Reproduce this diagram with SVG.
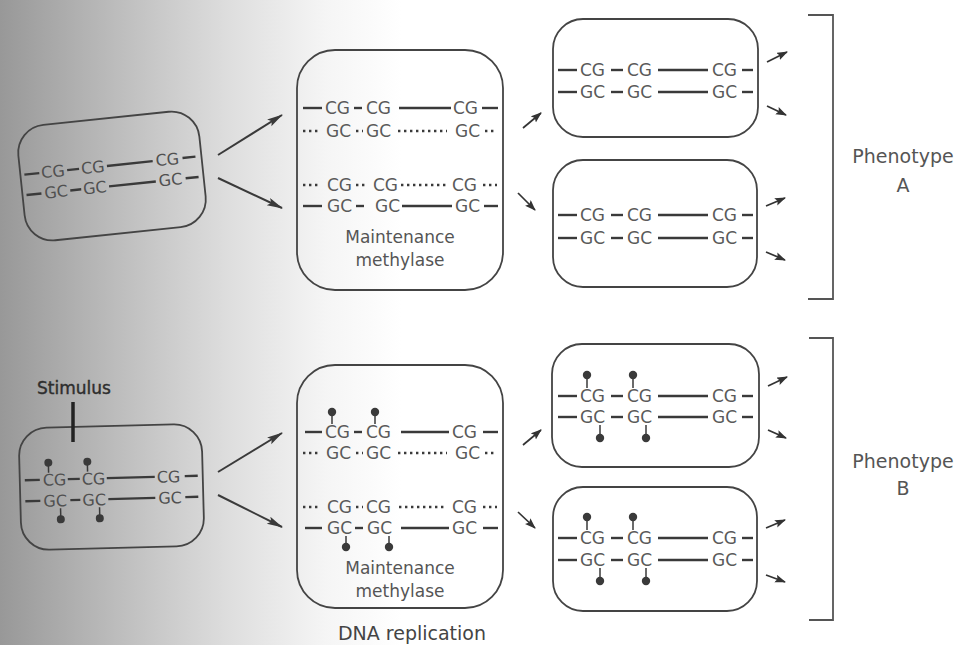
<svg xmlns="http://www.w3.org/2000/svg" width="956" height="645" viewBox="0 0 956 645">
<defs>
<linearGradient id="bg" x1="0" y1="0" x2="956" y2="0" gradientUnits="userSpaceOnUse">
<stop offset="0" stop-color="#989898"/>
<stop offset="0.12" stop-color="#bcbcbc"/>
<stop offset="0.24" stop-color="#dedede"/>
<stop offset="0.34" stop-color="#f5f5f5"/>
<stop offset="0.42" stop-color="#ffffff"/>
<stop offset="1" stop-color="#ffffff"/>
</linearGradient>
<marker id="big" markerUnits="userSpaceOnUse" markerWidth="16" markerHeight="10" refX="15" refY="4" orient="auto">
<path d="M0,0 L16,4 L0,8 L3,4 Z" fill="#3a3a3a"/>
</marker>
<marker id="sm" markerUnits="userSpaceOnUse" markerWidth="11" markerHeight="9" refX="10" refY="4" orient="auto">
<path d="M0,0 L11,4 L0,8 L2,4 Z" fill="#333"/>
</marker>
</defs>
<style>
.t{font-family:"DejaVu Sans","Liberation Sans",sans-serif;font-size:17px;fill:#5a5a5a}
.tl{font-family:"DejaVu Sans","Liberation Sans",sans-serif;font-size:16px;fill:#505050}
.lab{font-family:"DejaVu Sans","Liberation Sans",sans-serif;font-size:17px;fill:#555;text-anchor:middle}
.big{font-family:"DejaVu Sans","Liberation Sans",sans-serif;font-size:19px;fill:#555;text-anchor:middle}
.s{stroke:#3a3a3a;stroke-width:2.4;fill:none}
.d{stroke:#3a3a3a;stroke-width:2.6;stroke-dasharray:2.4 3.6;fill:none}
.box{fill:none;stroke:#444;stroke-width:1.8}
.ar{stroke:#3a3a3a;stroke-width:2;fill:none}
.ars{stroke:#333;stroke-width:1.7;fill:none}
.st{stroke:#3a3a3a;stroke-width:1.5}
.dot{fill:#3a3a3a}
.br{fill:none;stroke:#555;stroke-width:1.8}
</style>
<rect x="0" y="0" width="956" height="645" fill="url(#bg)"/>

<g id="parentA" transform="rotate(-6 112 176)">
<rect class="box" x="21" y="118" width="182" height="116" rx="28"/>
<line class="s" x1="25" y1="165.5" x2="40" y2="165.5"/>
<text class="tl" x="42" y="171">CG</text>
<line class="s" x1="68" y1="165.5" x2="80" y2="165.5"/>
<text class="tl" x="82" y="171">CG</text>
<line class="s" x1="108" y1="165.5" x2="154" y2="165.5"/>
<text class="tl" x="157" y="171">CG</text>
<line class="s" x1="184" y1="165.5" x2="197" y2="165.5"/>
<line class="s" x1="25" y1="186" x2="40" y2="186"/>
<text class="tl" x="43" y="191.5">GC</text>
<line class="s" x1="69" y1="186" x2="80" y2="186"/>
<text class="tl" x="82" y="191.5">GC</text>
<line class="s" x1="108" y1="186" x2="155" y2="186"/>
<text class="tl" x="158" y="191.5">GC</text>
<line class="s" x1="185" y1="186" x2="198" y2="186"/>
</g>

<g id="parentB" transform="rotate(-1.5 112 487)">
<rect class="box" x="20" y="426" width="183" height="122" rx="28"/>
<line class="s" x1="25" y1="478" x2="40" y2="478"/>
<text class="tl" x="43" y="484">CG</text>
<line class="s" x1="68" y1="478" x2="80" y2="478"/>
<text class="tl" x="82" y="484">CG</text>
<line class="s" x1="107" y1="478" x2="155" y2="478"/>
<text class="tl" x="157" y="484">CG</text>
<line class="s" x1="185" y1="478" x2="198" y2="478"/>
<line class="s" x1="25" y1="499" x2="40" y2="499"/>
<text class="tl" x="43" y="505">GC</text>
<line class="s" x1="70" y1="499" x2="80" y2="499"/>
<text class="tl" x="82" y="505">GC</text>
<line class="s" x1="108" y1="499" x2="155" y2="499"/>
<text class="tl" x="158" y="505">GC</text>
<line class="s" x1="185" y1="499" x2="198" y2="499"/>
<line class="st" x1="49" y1="461" x2="49" y2="471"/><circle class="dot" cx="49" cy="461" r="4"/>
<line class="st" x1="88" y1="461" x2="88" y2="471"/><circle class="dot" cx="88" cy="461" r="4"/>
<line class="st" x1="60" y1="507" x2="60" y2="518"/><circle class="dot" cx="60" cy="518" r="4"/>
<line class="st" x1="99" y1="507" x2="99" y2="518"/><circle class="dot" cx="99" cy="518" r="4"/>
</g>

<g id="stimulus">
<text x="37" y="394" style="font-family:'DejaVu Sans','Liberation Sans',sans-serif;font-size:17px;fill:#2e2e2e;stroke:#2e2e2e;stroke-width:0.4">Stimulus</text>
<line x1="73" y1="402" x2="73" y2="442" stroke="#222" stroke-width="3.5"/>
</g>

<g id="replicaA">
<rect class="box" x="297" y="50" width="206" height="240" rx="38"/>
<line class="s" x1="303" y1="108" x2="322" y2="108"/>
<text class="t" x="325" y="114">CG</text>
<line class="s" x1="354" y1="108" x2="362" y2="108"/>
<text class="t" x="366" y="114">CG</text>
<line class="s" x1="399" y1="108" x2="451" y2="108"/>
<text class="t" x="453" y="114">CG</text>
<line class="s" x1="482" y1="108" x2="498" y2="108"/>
<line class="d" x1="303" y1="131" x2="321" y2="131"/>
<text class="t" x="326" y="137">GC</text>
<line class="d" x1="356" y1="131" x2="363" y2="131"/>
<text class="t" x="366" y="137">GC</text>
<line class="d" x1="398" y1="131" x2="447" y2="131"/>
<text class="t" x="455" y="137">GC</text>
<line class="d" x1="485" y1="131" x2="497" y2="131"/>
<line class="d" x1="303" y1="185" x2="321" y2="185"/>
<text class="t" x="327" y="191">CG</text>
<line class="d" x1="356" y1="185" x2="366" y2="185"/>
<text class="t" x="373" y="191">CG</text>
<line class="d" x1="401" y1="185" x2="449" y2="185"/>
<text class="t" x="452" y="191">CG</text>
<line class="d" x1="483" y1="185" x2="497" y2="185"/>
<line class="s" x1="303" y1="206" x2="322" y2="206"/>
<text class="t" x="327" y="212">GC</text>
<line class="s" x1="356" y1="206" x2="364" y2="206"/>
<text class="t" x="375" y="212">GC</text>
<line class="s" x1="402" y1="206" x2="452" y2="206"/>
<text class="t" x="455" y="212">GC</text>
<line class="s" x1="484" y1="206" x2="498" y2="206"/>
<text class="lab" x="400" y="243">Maintenance</text>
<text class="lab" x="400" y="266">methylase</text>
</g>

<g id="replicaB">
<rect class="box" x="297" y="365" width="206" height="243" rx="38"/>
<line class="s" x1="305" y1="432" x2="322" y2="432"/>
<text class="t" x="325" y="438">CG</text>
<line class="s" x1="354" y1="432" x2="362" y2="432"/>
<text class="t" x="366" y="438">CG</text>
<line class="s" x1="401" y1="432" x2="449" y2="432"/>
<text class="t" x="452" y="438">CG</text>
<line class="s" x1="483" y1="432" x2="498" y2="432"/>
<line class="st" x1="332" y1="412" x2="332" y2="424"/><circle class="dot" cx="332" cy="412" r="4.2"/>
<line class="st" x1="375" y1="412" x2="375" y2="424"/><circle class="dot" cx="375" cy="412" r="4.2"/>
<line class="d" x1="303" y1="453" x2="321" y2="453"/>
<text class="t" x="326" y="459">GC</text>
<line class="d" x1="356" y1="453" x2="363" y2="453"/>
<text class="t" x="366" y="459">GC</text>
<line class="d" x1="398" y1="453" x2="447" y2="453"/>
<text class="t" x="455" y="459">GC</text>
<line class="d" x1="485" y1="453" x2="497" y2="453"/>
<line class="d" x1="303" y1="507" x2="321" y2="507"/>
<text class="t" x="327" y="513">CG</text>
<line class="d" x1="356" y1="507" x2="363" y2="507"/>
<text class="t" x="366" y="513">CG</text>
<line class="d" x1="399" y1="507" x2="447" y2="507"/>
<text class="t" x="452" y="513">CG</text>
<line class="d" x1="483" y1="507" x2="497" y2="507"/>
<line class="s" x1="305" y1="528" x2="322" y2="528"/>
<text class="t" x="327" y="534">GC</text>
<line class="s" x1="355" y1="528" x2="363" y2="528"/>
<text class="t" x="367" y="534">GC</text>
<line class="s" x1="401" y1="528" x2="449" y2="528"/>
<text class="t" x="452" y="534">GC</text>
<line class="s" x1="483" y1="528" x2="498" y2="528"/>
<line class="st" x1="346" y1="536" x2="346" y2="547"/><circle class="dot" cx="346" cy="547" r="4.2"/>
<line class="st" x1="389" y1="536" x2="389" y2="547"/><circle class="dot" cx="389" cy="547" r="4.2"/>
<text class="lab" x="400" y="574">Maintenance</text>
<text class="lab" x="400" y="597">methylase</text>
</g>

<g id="daughterA1">
<rect class="box" x="553" y="19" width="205" height="118" rx="30"/>
<line class="s" x1="558" y1="70" x2="577" y2="70"/>
<text class="t" x="580" y="76">CG</text>
<line class="s" x1="611" y1="70" x2="623" y2="70"/>
<text class="t" x="627" y="76">CG</text>
<line class="s" x1="658" y1="70" x2="708" y2="70"/>
<text class="t" x="712" y="76">CG</text>
<line class="s" x1="742" y1="70" x2="753" y2="70"/>
<line class="s" x1="558" y1="92" x2="577" y2="92"/>
<text class="t" x="580" y="98">GC</text>
<line class="s" x1="611" y1="92" x2="623" y2="92"/>
<text class="t" x="627" y="98">GC</text>
<line class="s" x1="658" y1="92" x2="708" y2="92"/>
<text class="t" x="712" y="98">GC</text>
<line class="s" x1="742" y1="92" x2="753" y2="92"/>
</g>

<g id="daughterA2">
<rect class="box" x="553" y="160" width="204" height="127" rx="30"/>
<line class="s" x1="558" y1="215" x2="577" y2="215"/>
<text class="t" x="580" y="221">CG</text>
<line class="s" x1="611" y1="215" x2="623" y2="215"/>
<text class="t" x="627" y="221">CG</text>
<line class="s" x1="658" y1="215" x2="708" y2="215"/>
<text class="t" x="712" y="221">CG</text>
<line class="s" x1="742" y1="215" x2="753" y2="215"/>
<line class="s" x1="558" y1="238" x2="577" y2="238"/>
<text class="t" x="580" y="244">GC</text>
<line class="s" x1="611" y1="238" x2="623" y2="238"/>
<text class="t" x="627" y="244">GC</text>
<line class="s" x1="658" y1="238" x2="708" y2="238"/>
<text class="t" x="712" y="244">GC</text>
<line class="s" x1="742" y1="238" x2="753" y2="238"/>
</g>

<g id="daughterB1">
<rect class="box" x="552" y="344" width="207" height="123" rx="30"/>
<line class="s" x1="558" y1="396" x2="577" y2="396"/>
<text class="t" x="580" y="402">CG</text>
<line class="s" x1="611" y1="396" x2="623" y2="396"/>
<text class="t" x="627" y="402">CG</text>
<line class="s" x1="658" y1="396" x2="708" y2="396"/>
<text class="t" x="712" y="402">CG</text>
<line class="s" x1="742" y1="396" x2="753" y2="396"/>
<line class="s" x1="558" y1="417" x2="577" y2="417"/>
<text class="t" x="580" y="423">GC</text>
<line class="s" x1="611" y1="417" x2="623" y2="417"/>
<text class="t" x="627" y="423">GC</text>
<line class="s" x1="658" y1="417" x2="708" y2="417"/>
<text class="t" x="712" y="423">GC</text>
<line class="s" x1="742" y1="417" x2="753" y2="417"/>
<line class="st" x1="587" y1="375" x2="587" y2="388"/><circle class="dot" cx="587" cy="375" r="4.2"/>
<line class="st" x1="633" y1="375" x2="633" y2="388"/><circle class="dot" cx="633" cy="375" r="4.2"/>
<line class="st" x1="600" y1="425" x2="600" y2="438"/><circle class="dot" cx="600" cy="438" r="4.2"/>
<line class="st" x1="646" y1="425" x2="646" y2="438"/><circle class="dot" cx="646" cy="438" r="4.2"/>
</g>

<g id="daughterB2">
<rect class="box" x="553" y="487" width="204" height="124" rx="30"/>
<line class="s" x1="558" y1="538" x2="577" y2="538"/>
<text class="t" x="580" y="544">CG</text>
<line class="s" x1="611" y1="538" x2="623" y2="538"/>
<text class="t" x="627" y="544">CG</text>
<line class="s" x1="658" y1="538" x2="708" y2="538"/>
<text class="t" x="712" y="544">CG</text>
<line class="s" x1="742" y1="538" x2="753" y2="538"/>
<line class="s" x1="558" y1="560" x2="577" y2="560"/>
<text class="t" x="580" y="566">GC</text>
<line class="s" x1="611" y1="560" x2="623" y2="560"/>
<text class="t" x="627" y="566">GC</text>
<line class="s" x1="658" y1="560" x2="708" y2="560"/>
<text class="t" x="712" y="566">GC</text>
<line class="s" x1="742" y1="560" x2="753" y2="560"/>
<line class="st" x1="587" y1="517" x2="587" y2="530"/><circle class="dot" cx="587" cy="517" r="4.2"/>
<line class="st" x1="633" y1="517" x2="633" y2="530"/><circle class="dot" cx="633" cy="517" r="4.2"/>
<line class="st" x1="600" y1="568" x2="600" y2="581"/><circle class="dot" cx="600" cy="581" r="4.2"/>
<line class="st" x1="646" y1="568" x2="646" y2="581"/><circle class="dot" cx="646" cy="581" r="4.2"/>
</g>

<g id="phenotypeA">
<path class="br" d="M808 15 H833 V299 H808"/>
<text class="big" x="903" y="163">Phenotype</text>
<text class="big" x="903" y="192">A</text>
</g>
<g id="phenotypeB">
<path class="br" d="M809 338 H833 V620 H809"/>
<text class="big" x="903" y="468">Phenotype</text>
<text class="big" x="903" y="495">B</text>
</g>

<g id="caption">
<text class="big" x="412" y="640" style="fill:#444">DNA replication</text>
</g>

<g id="connectors">
<line class="ar" x1="218" y1="155" x2="282" y2="115" marker-end="url(#big)"/>
<line class="ar" x1="218" y1="178" x2="282" y2="208" marker-end="url(#big)"/>
<line class="ar" x1="218" y1="472" x2="282" y2="433" marker-end="url(#big)"/>
<line class="ar" x1="218" y1="495" x2="282" y2="527" marker-end="url(#big)"/>
<line class="ars" x1="523" y1="128" x2="541" y2="113" marker-end="url(#sm)"/>
<line class="ars" x1="518" y1="193" x2="535" y2="210" marker-end="url(#sm)"/>
<line class="ars" x1="523" y1="445" x2="541" y2="430" marker-end="url(#sm)"/>
<line class="ars" x1="518" y1="512" x2="535" y2="528" marker-end="url(#sm)"/>
<line class="ars" x1="767" y1="62" x2="787" y2="52" marker-end="url(#sm)"/>
<line class="ars" x1="767" y1="106" x2="786" y2="115" marker-end="url(#sm)"/>
<line class="ars" x1="766" y1="206" x2="785" y2="198" marker-end="url(#sm)"/>
<line class="ars" x1="766" y1="252" x2="785" y2="260" marker-end="url(#sm)"/>
<line class="ars" x1="768" y1="386" x2="787" y2="377" marker-end="url(#sm)"/>
<line class="ars" x1="768" y1="430" x2="786" y2="438" marker-end="url(#sm)"/>
<line class="ars" x1="766" y1="528" x2="785" y2="520" marker-end="url(#sm)"/>
<line class="ars" x1="766" y1="575" x2="785" y2="582" marker-end="url(#sm)"/>
</g>
</svg>
